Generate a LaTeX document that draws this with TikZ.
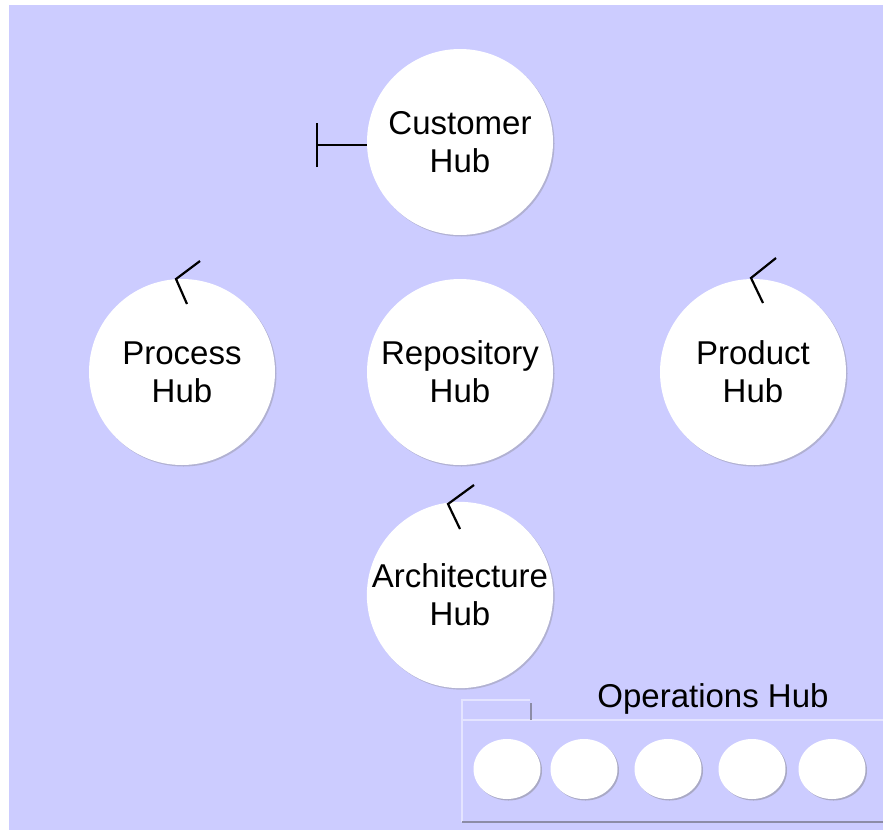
\documentclass[tikz,border=0pt]{standalone}
\usepackage{fontspec}
\setmainfont{Liberation Sans}
\usepackage{tikz}
\usetikzlibrary{shapes.geometric, shadows, arrows.meta}
\definecolor{hubbg}{HTML}{CCCCFF}
\definecolor{panelline}{HTML}{E4E4FF}
\definecolor{paneldark}{HTML}{8C8CA6}
\tikzset{
  hub/.style={circle, fill=white, minimum size=186pt, inner sep=0pt, align=center,
    font=\fontsize{33}{38}\selectfont,
    drop shadow={shadow xshift=1.5pt, shadow yshift=-1.5pt, opacity=.35, fill=gray}},
  opshub/.style={ellipse, fill=white, minimum width=67pt, minimum height=60pt, inner sep=0pt,
    drop shadow={shadow xshift=1.5pt, shadow yshift=-1.5pt, opacity=.45, fill=gray}},
  tick/.style={line width=2.2pt}
}

\begin{document}
\begin{tikzpicture}[x=1pt, y=-1pt]
  \useasboundingbox (0,0) rectangle (883,830);
  \fill[hubbg] (9,5) rectangle (883,830);

  \node[hub] (customer) at (460,142) {Customer\\Hub};
  \node[hub] (process) at (182,372) {Process\\Hub};
  \node[hub] (repository) at (460,372) {Repository\\Hub};
  \node[hub] (product) at (753,372) {Product\\Hub};
  \node[hub] (architecture) at (460,595) {Architecture\\Hub};

  \coordinate (custbar) at (316,145);
  \draw[tick, -{Bar[width=44pt, line width=2.2pt]}] (customer.west |- custbar) -- (custbar);

  \draw[tick] (200,261) -- (176,279) -- (187,304);
  \draw[tick] (776,258) -- (751,278) -- (763,303);
  \draw[tick] (474,485) -- (448,504) -- (460,529);

  % operations panel
  \draw[panelline, line width=1.2pt] (462,720) -- (462,700) -- (530,700);
  \draw[panelline, line width=1.2pt] (883,720) -- (462,720) -- (462,822);
  \draw[paneldark, line width=1.2pt] (462,822) -- (883,822);
  \draw[paneldark, line width=1.8pt] (531,703) -- (531,720);
  \node[font=\fontsize{33}{38}\selectfont] (opslabel) at (713,699) {Operations Hub};

  \node[opshub] (ops1) at (507,769) {};
  \node[opshub] (ops2) at (584,769) {};
  \node[opshub] (ops3) at (668,769) {};
  \node[opshub] (ops4) at (752,769) {};
  \node[opshub] (ops5) at (832,769) {};
\end{tikzpicture}
\end{document}
